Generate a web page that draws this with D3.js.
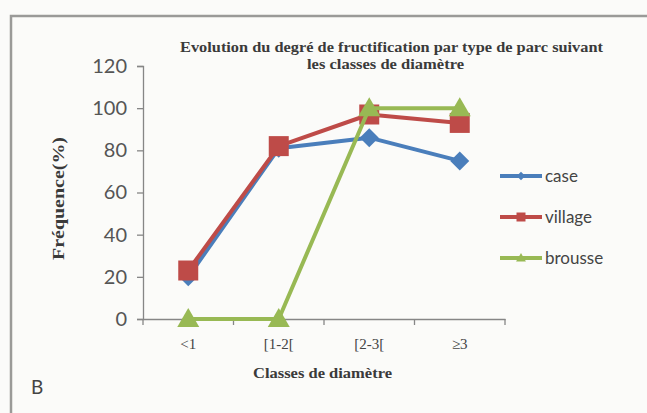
<!DOCTYPE html>
<html><head><meta charset="utf-8">
<script src="https://cdn.jsdelivr.net/npm/d3@7"></script>
<style>body{margin:0;background:#fff}svg{display:block}</style>
</head><body>
<script>
const categories = ["<1", "[1-2[", "[2-3[", "≥3"];
const seriesNames = ["case", "village", "brousse"];
const caseValues = [20, 81, 86, 75];
const villageValues = [23, 82, 97, 93];
const brousseValues = [0, 0, 100, 100];
const yTicks = [0, 20, 40, 60, 80, 100, 120];
const titleLines = ["Evolution du degré de fructification par type de parc suivant", "les classes de diamètre"];
const yTitle = "Fréquence(%)";
const xTitle = "Classes de diamètre";
const panelLabel = "B";

const W = 647, H = 413;
const svg = d3.select("body").append("svg").attr("width", W).attr("height", H);
svg.append("rect").attr("width", W).attr("height", H).attr("fill", "#fbfbf9");
svg.append("path").attr("d", `M11,${H} L11,16 L${W},16`).attr("fill", "none").attr("stroke", "#9a9a98").attr("stroke-width", 2.5);

const x = d3.scaleBand().domain(categories).range([143, 505]);
const y = d3.scaleLinear().domain([0, 120]).range([319, 66]);

const grey = "#868686";
const serif = "'Liberation Serif', 'DejaVu Serif', serif";
const sans = "Lato, 'Open Sans', sans-serif";

const ya = svg.append("g").attr("transform", "translate(143,0)")
  .call(d3.axisLeft(y).tickValues(yTicks).tickSize(6).tickPadding(10));
ya.select(".domain").attr("stroke", grey).attr("stroke-width", 1.3);
ya.selectAll(".tick line").attr("stroke", grey).attr("stroke-width", 1.3);
ya.selectAll("text").attr("font-family", sans).attr("font-size", 20).attr("fill", "#555");

const xa = svg.append("g").attr("transform", "translate(0,319)")
  .call(d3.axisBottom(x).tickSize(0).tickPadding(0));
xa.select(".domain").attr("stroke", grey).attr("stroke-width", 1.3);
xa.selectAll(".tick line").remove();
xa.selectAll("text").attr("font-family", serif).attr("font-size", 15).attr("fill", "#444").attr("dy", "0").attr("y", 30);
const bounds = categories.map(c => x(c)).concat([x.range()[1]]);
xa.selectAll(".btick").data(bounds).join("line").attr("class", "btick")
  .attr("x1", d => d).attr("x2", d => d).attr("y1", 0).attr("y2", 6)
  .attr("stroke", grey).attr("stroke-width", 1.3);

// titles
const tAttrs = sel => sel.attr("font-family", serif).attr("font-weight", "bold").attr("fill", "#3a3a3a");
tAttrs(svg.append("text")).attr("x", 180).attr("y", 52).attr("font-size", 14)
  .attr("textLength", 423).attr("lengthAdjust", "spacingAndGlyphs").text(titleLines[0]);
tAttrs(svg.append("text")).attr("x", 307).attr("y", 69).attr("font-size", 14)
  .attr("textLength", 157).attr("lengthAdjust", "spacingAndGlyphs").text(titleLines[1]);

tAttrs(svg.append("text")).attr("transform", "translate(64,260) rotate(-90)").attr("font-size", 17)
  .attr("textLength", 123).attr("lengthAdjust", "spacingAndGlyphs").text(yTitle);
tAttrs(svg.append("text")).attr("x", 253).attr("y", 378).attr("font-size", 14)
  .attr("textLength", 139).attr("lengthAdjust", "spacingAndGlyphs").text(xTitle);
svg.append("text").attr("x", 31).attr("y", 394)
  .attr("font-family", sans).attr("font-size", 19).attr("fill", "#444").text(panelLabel);

// marker shapes
const diamond = r => `M0,${-r}L${r},0L0,${r}L${-r},0Z`;
const square = r => `M${-r},${-r}H${r}V${r}H${-r}Z`;
const triangle = r => `M0,${-r * 1.1}L${r * 1.1},${r * 0.8}L${-r * 1.1},${r * 0.8}Z`;

const series = [
  {name: seriesNames[0], values: caseValues, color: "#4a7ebb", shape: diamond, r: 9.5},
  {name: seriesNames[1], values: villageValues, color: "#be4b48", shape: square, r: 10},
  {name: seriesNames[2], values: brousseValues, color: "#98b954", shape: triangle, r: 10}
];
const cx = c => x(c) + x.bandwidth() / 2;
const line = d3.line().x(d => cx(d.c)).y(d => y(d.v));

series.forEach(s => {
  const pts = categories.map((c, i) => ({c, v: s.values[i]}));
  svg.append("path").datum(pts).attr("d", line).attr("fill", "none")
    .attr("stroke", s.color).attr("stroke-width", 4).attr("stroke-linejoin", "round");
  svg.selectAll(null).data(pts).join("path")
    .attr("transform", d => `translate(${cx(d.c)},${y(d.v)})`)
    .attr("d", s.shape(s.r)).attr("fill", s.color);
});

series.forEach((s, i) => {
  const ly = 176 + i * 41;
  const g = svg.append("g").attr("transform", `translate(500,${ly})`);
  g.append("line").attr("x1", 0).attr("x2", 42).attr("stroke", s.color).attr("stroke-width", 4);
  g.append("path").attr("transform", "translate(21,0)")
    .attr("d", s.shape(s.r * 0.45)).attr("fill", s.color);
  g.append("text").attr("x", 45).attr("y", 6)
    .attr("font-family", sans).attr("font-size", 17).attr("fill", "#444").text(s.name);
});
</script>
</body></html>
